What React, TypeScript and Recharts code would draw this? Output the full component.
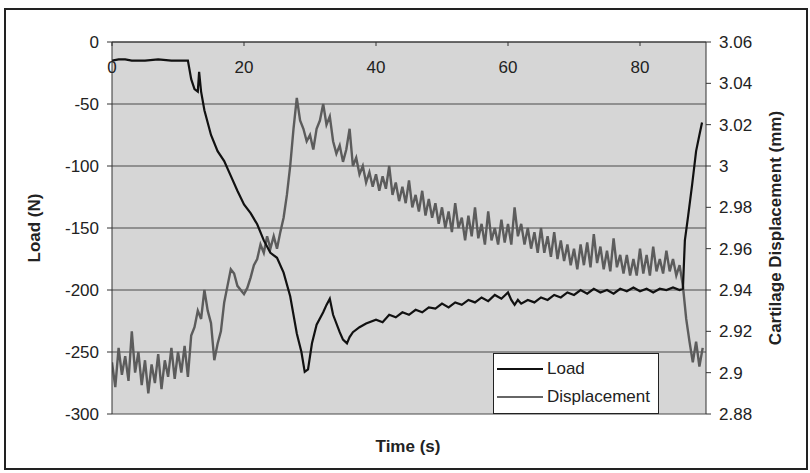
import React from 'react';
import { LineChart, Line, XAxis, YAxis, CartesianGrid, Legend } from 'recharts';

// Load (N): time (s) / value
const loadTime = [
  0, 1, 2, 3, 5, 7, 9, 11, 11.5, 12, 12.5, 13, 13.2, 13.5, 14, 15, 16, 17, 18, 19,
  20, 21, 22, 23, 24, 25, 26, 27, 28, 28.7, 29.2, 29.7, 30.3, 31, 32, 32.5, 33, 33.5, 34.5, 35,
  35.6, 36, 36.5, 37.5, 38.5, 40, 41, 42, 43, 44, 45, 46, 47, 48, 49, 50, 51, 52, 53, 54,
  55, 56, 57, 58, 59, 60, 60.5, 61, 61.5, 62, 63, 64, 65, 66, 67, 68, 69, 70, 71, 72,
  73, 74, 75, 76, 77, 78, 79, 80, 81, 82, 83, 84, 85, 86, 86.5, 86.8, 87.3, 87.9, 88.5, 89,
  89.4,
];
const loadValues = [
  -15, -14, -14, -15, -15, -14, -15, -15, -15, -30, -38, -40, -24, -40, -55, -75, -88, -96, -108, -120,
  -131, -138, -147, -160, -170, -174, -186, -205, -235, -250, -266, -264, -243, -228, -218, -212, -207, -220, -234, -240,
  -243, -238, -234, -230, -227, -224, -226, -220, -222, -218, -220, -216, -218, -214, -215, -211, -214, -210, -212, -208,
  -210, -206, -209, -204, -207, -202, -208, -212, -208, -211, -208, -210, -206, -208, -204, -206, -202, -204, -200, -203,
  -199, -202, -200, -203, -199, -201, -198, -201, -199, -202, -199, -200, -198, -200, -199, -160, -140, -115, -88, -75,
  -65,
];

// Cartilage displacement (mm), sampled every 0.5 s from t = 0
const DISP_STEP = 0.5;
const dispValues = [
  2.905, 2.893, 2.912, 2.899, 2.908, 2.896, 2.920, 2.900, 2.910, 2.894, // 0-4.5
  2.906, 2.890, 2.904, 2.895, 2.909, 2.892, 2.906, 2.898, 2.912, 2.897, // 5-9.5
  2.910, 2.900, 2.913, 2.898, 2.918, 2.922, 2.930, 2.926, 2.940, 2.930, // 10-14.5
  2.924, 2.906, 2.914, 2.920, 2.934, 2.942, 2.950, 2.948, 2.942, 2.940, // 15-19.5
  2.938, 2.941, 2.946, 2.952, 2.955, 2.962, 2.958, 2.966, 2.960, 2.966, // 20-24.5
  2.960, 2.968, 2.975, 2.986, 3.000, 3.018, 3.033, 3.022, 3.018, 3.012, // 25-29.5
  3.015, 3.008, 3.018, 3.022, 3.030, 3.020, 3.024, 3.012, 3.006, 3.010, // 30-34.5
  3.002, 3.008, 3.018, 3.000, 3.004, 2.996, 3.000, 2.992, 2.997, 2.990, // 35-39.5
  2.996, 2.988, 2.995, 2.989, 3.000, 2.986, 2.992, 2.983, 2.990, 2.982, // 40-44.5
  2.993, 2.980, 2.986, 2.978, 2.988, 2.976, 2.984, 2.975, 2.982, 2.972, // 45-49.5
  2.980, 2.970, 2.978, 2.968, 2.982, 2.970, 2.975, 2.964, 2.976, 2.966, // 50-54.5
  2.980, 2.965, 2.972, 2.962, 2.978, 2.964, 2.970, 2.962, 2.974, 2.963, // 55-59.5
  2.972, 2.962, 2.980, 2.966, 2.972, 2.962, 2.970, 2.960, 2.968, 2.958, // 60-64.5
  2.970, 2.958, 2.966, 2.956, 2.968, 2.955, 2.964, 2.954, 2.962, 2.952, // 65-69.5
  2.960, 2.950, 2.962, 2.952, 2.963, 2.951, 2.967, 2.953, 2.961, 2.950, // 70-74.5
  2.959, 2.949, 2.965, 2.951, 2.957, 2.948, 2.957, 2.947, 2.955, 2.947, // 75-79.5
  2.960, 2.948, 2.957, 2.947, 2.961, 2.949, 2.955, 2.948, 2.959, 2.949, // 80-84.5
  2.955, 2.947, 2.952, 2.942, 2.926, 2.915, 2.905, 2.915, 2.903, 2.912, // 85-89.5
];

const timeTicks = [0, 20, 40, 60, 80];
const loadTicks = [-300, -250, -200, -150, -100, -50, 0];
const dispTicks = [2.88, 2.9, 2.92, 2.94, 2.96, 2.98, 3.0, 3.02, 3.04, 3.06];

const loadData = loadTime.map((t, i) => ({ t, load: loadValues[i] }));
const dispData = dispValues.map((d, i) => ({ t: i * DISP_STEP, disp: d }));

const FONT = 'Arial, "Liberation Sans", sans-serif';
const PLOT_TOP = 42;

const TimeTick = (props: any) => {
  const { x, payload } = props;
  return (
    <g>
      <line x1={x} y1={PLOT_TOP} x2={x} y2={PLOT_TOP + 4} stroke="#333" />
      <text x={x} y={PLOT_TOP + 31} textAnchor="middle" fontSize={17} fontFamily={FONT} fill="#222">
        {payload.value}
      </text>
    </g>
  );
};

const LegendBox = () => (
  <div
    style={{
      width: 166,
      height: 61,
      boxSizing: 'border-box',
      border: '1px solid #222',
      background: '#fff',
      fontFamily: FONT,
      fontSize: 17,
      color: '#222',
    }}
  >
    <div style={{ display: 'flex', alignItems: 'center', height: 28, marginTop: 1 }}>
      <div style={{ width: 46, height: 2, background: '#111', marginLeft: 3, marginRight: 4 }} />
      <span>Load</span>
    </div>
    <div style={{ display: 'flex', alignItems: 'center', height: 28 }}>
      <div style={{ width: 46, height: 1.5, background: '#666', marginLeft: 3, marginRight: 4 }} />
      <span>Displacement</span>
    </div>
  </div>
);

const titleStyle: React.CSSProperties = {
  position: 'absolute',
  fontFamily: FONT,
  fontWeight: 'bold',
  fontSize: 17,
  color: '#222',
  whiteSpace: 'nowrap',
};

export default function App() {
  return (
    <div style={{ position: 'absolute', left: 0, top: 0, width: 810, height: 473, background: '#fff' }}>
      <div
        style={{
          position: 'absolute',
          left: 4,
          top: 8,
          width: 804,
          height: 462,
          border: '2px solid #222',
          boxSizing: 'border-box',
        }}
      />
      <div style={{ position: 'absolute', left: 0, top: 0 }}>
        <LineChart width={810} height={473} margin={{ top: PLOT_TOP - 2, right: 44, bottom: 59, left: 52 }}>
          <CartesianGrid yAxisId="load" xAxisId="t" vertical={false} stroke="#4a4a4a" fill="#d6d6d6" fillOpacity={1} />
          <XAxis
            xAxisId="t"
            dataKey="t"
            type="number"
            orientation="top"
            domain={[0, 90]}
            ticks={timeTicks}
            height={2}
            tickLine={false}
            tick={<TimeTick />}
            axisLine={{ stroke: '#333' }}
            allowDataOverflow
          />
          <YAxis
            yAxisId="load"
            orientation="left"
            domain={[-300, 0]}
            ticks={loadTicks}
            width={60}
            tickSize={5}
            tickMargin={8}
            axisLine={{ stroke: '#333' }}
            tickLine={{ stroke: '#333' }}
            tick={{ fontSize: 17, fontFamily: FONT, fill: '#222' }}
          />
          <YAxis
            yAxisId="disp"
            orientation="right"
            domain={[2.88, 3.06]}
            ticks={dispTicks}
            width={60}
            tickSize={5}
            tickMargin={8}
            axisLine={{ stroke: '#333' }}
            tickLine={{ stroke: '#333' }}
            tick={{ fontSize: 17, fontFamily: FONT, fill: '#222' }}
            tickFormatter={(v: number) => String(Number(v.toFixed(2)))}
          />
          <Line
            xAxisId="t"
            yAxisId="disp"
            data={dispData}
            dataKey="disp"
            name="Displacement"
            type="linear"
            stroke="#5c5c5c"
            strokeWidth={2.4}
            dot={false}
            isAnimationActive={false}
          />
          <Line
            xAxisId="t"
            yAxisId="load"
            data={loadData}
            dataKey="load"
            name="Load"
            type="linear"
            stroke="#111"
            strokeWidth={2.2}
            dot={false}
            isAnimationActive={false}
          />
          <Legend
            layout="vertical"
            align="center"
            verticalAlign="middle"
            content={() => <LegendBox />}
            wrapperStyle={{ left: 493, top: 353, width: 166, height: 61 }}
          />
        </LineChart>
      </div>
      <div style={{ ...titleStyle, left: 35, top: 228, transform: 'translate(-50%, -50%) rotate(-90deg)' }}>
        Load (N)
      </div>
      <div style={{ ...titleStyle, left: 776, top: 228, transform: 'translate(-50%, -50%) rotate(-90deg)' }}>
        Cartilage Displacement (mm)
      </div>
      <div style={{ ...titleStyle, left: 408, top: 447, transform: 'translate(-50%, -50%)' }}>Time (s)</div>
    </div>
  );
}
